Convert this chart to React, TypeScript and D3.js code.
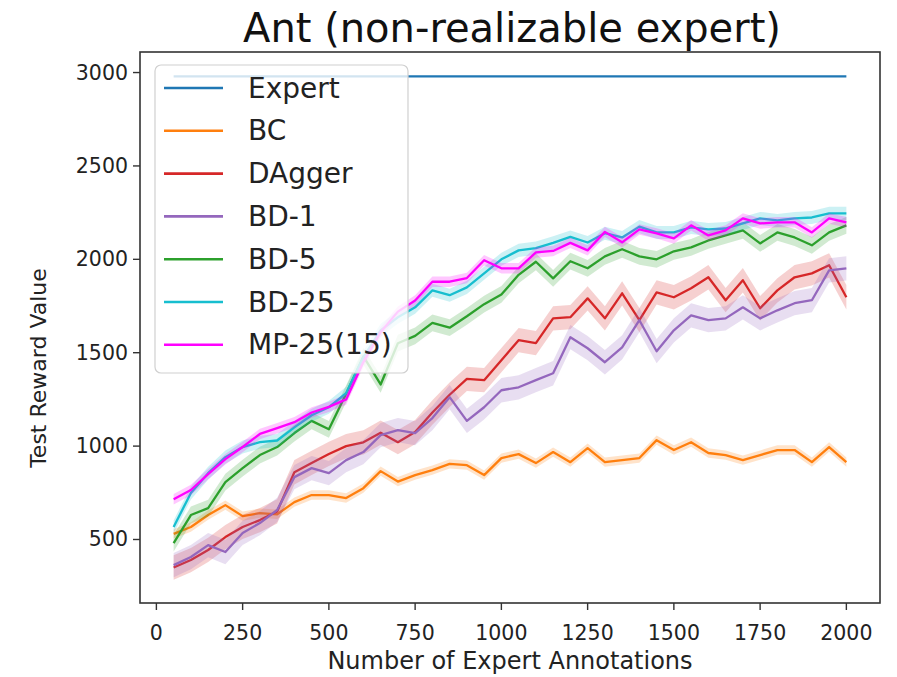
import React from "react";
import * as d3 from "d3";

const xs = [50,100,150,200,250,300,350,400,450,500,550,600,650,700,750,800,850,900,950,1000,1050,1100,1150,1200,1250,1300,1350,1400,1450,1500,1550,1600,1650,1700,1750,1800,1850,1900,1950,2000];

const expert = [2980,2980,2980,2980,2980,2980,2980,2980,2980,2980,2980,2980,2980,2980,2980,2980,2980,2980,2980,2980,2980,2980,2980,2980,2980,2980,2980,2980,2980,2980,2980,2980,2980,2980,2980,2980,2980,2980,2980,2980];
const bc = [530,567,631,684,625,641,635,700,738,738,722,775,866,810,845,871,905,898,845,936,957,909,968,914,989,914,925,936,1032,979,1021,963,952,925,952,979,979,914,995,914];
const dagger = [350,390,444,513,567,604,650,860,910,958,1000,1020,1072,1021,1075,1180,1275,1360,1353,1460,1567,1551,1684,1690,1791,1684,1818,1674,1823,1797,1845,1904,1781,1888,1738,1834,1904,1925,1968,1797];
const bd1 = [363,406,470,433,535,588,658,834,882,855,925,968,1059,1085,1069,1150,1262,1135,1208,1299,1315,1353,1390,1583,1524,1449,1529,1674,1508,1620,1700,1674,1684,1743,1684,1727,1765,1781,1941,1952];
const bd5 = [481,631,668,807,882,952,995,1070,1135,1090,1280,1480,1330,1551,1590,1660,1634,1695,1760,1812,1917,1987,1898,1990,1952,2016,2054,2016,2000,2043,2064,2101,2128,2155,2085,2144,2117,2075,2144,2182];
const bd25 = [567,749,855,941,995,1021,1030,1100,1165,1208,1283,1476,1620,1690,1743,1834,1808,1850,1925,2000,2048,2060,2088,2120,2090,2140,2117,2175,2144,2144,2171,2160,2165,2192,2219,2208,2219,2224,2246,2246];
const mp = [715,765,850,930,995,1065,1096,1128,1180,1210,1250,1450,1610,1720,1780,1880,1880,1900,1995,1952,1952,2037,2045,2088,2048,2147,2091,2160,2139,2112,2182,2128,2155,2219,2192,2198,2198,2144,2219,2198];

const seriesNames = ["Expert","BC","DAgger","BD-1","BD-5","BD-25","MP-25(15)"];
const seriesValues = [expert, bc, dagger, bd1, bd5, bd25, mp];
const seriesSpread = [0, 25, 65, 65, 45, 35, 28];
const seriesColors = ["#1f77b4","#ff7f0e","#d62728","#9467bd","#2ca02c","#17becf","#ff00ff"];

const xTicks = [0,250,500,750,1000,1250,1500,1750,2000];
const yTicks = [500,1000,1500,2000,2500,3000];

const W = 897, H = 677;
const left = 140, right = 880, top = 52, bottom = 603;
const font = "DejaVu Sans";

export default function App() {
  const x = d3.scaleLinear().domain([-47.5, 2097.5]).range([left, right]);
  const y = d3.scaleLinear().domain([160, 3110]).range([bottom, top]);
  const line = d3.line<number>().x((_, i) => x(xs[i])).y(d => y(d));
  const legendX = 155, legendY = 65, legendW = 253, legendH = 308;
  return (
    <svg width={W} height={H} style={{ position: "absolute", left: 0, top: 0, background: "#fff" }} fontFamily={font}>
      <rect x={0} y={0} width={W} height={H} fill="#fff" />
      <text x={(left + right) / 2 + 2} y={42} textAnchor="middle" fontSize={40} fill="#111">Ant (non-realizable expert)</text>
      <defs>
        <clipPath id="plotclip"><rect x={left} y={top} width={right - left} height={bottom - top} /></clipPath>
      </defs>
      <g clipPath="url(#plotclip)">
        {seriesValues.map((vals, s) => {
          const sp = seriesSpread[s];
          const area = d3.area<number>().x((_, i) => x(xs[i])).y0(d => y(d - sp)).y1(d => y(d + sp));
          return (
            <g key={s}>
              {sp > 0 && <path d={area(vals) || ""} fill={seriesColors[s]} fillOpacity={0.22} stroke="none" />}
              <path d={line(vals) || ""} fill="none" stroke={seriesColors[s]} strokeWidth={2.3} strokeLinejoin="round" />
            </g>
          );
        })}
      </g>
      <rect x={left} y={top} width={right - left} height={bottom - top} fill="none" stroke="#333" strokeWidth={1.6} />
      {xTicks.map(t => (
        <g key={"x" + t}>
          <line x1={x(t)} x2={x(t)} y1={bottom} y2={bottom + 7} stroke="#333" strokeWidth={1.4} />
          <text x={x(t)} y={640} textAnchor="middle" fontSize={20.5} fill="#222">{t}</text>
        </g>
      ))}
      {yTicks.map(t => (
        <g key={"y" + t}>
          <line x1={left - 7} x2={left} y1={y(t)} y2={y(t)} stroke="#333" strokeWidth={1.4} />
          <text x={left - 12} y={y(t)} textAnchor="end" dominantBaseline="central" fontSize={20.5} fill="#222">{t}</text>
        </g>
      ))}
      <text x={(left + right) / 2} y={669} textAnchor="middle" fontSize={24} fill="#222">Number of Expert Annotations</text>
      <text transform={`translate(46,368) rotate(-90)`} textAnchor="middle" fontSize={22} fill="#222">Test Reward Value</text>
      <rect x={legendX} y={legendY} width={legendW} height={legendH} rx={6} fill="#fff" fillOpacity={0.8} stroke="#d0d0d0" strokeWidth={1.2} />
      {seriesNames.map((n, i) => {
        const cy = 88 + i * 42.8;
        return (
          <g key={n}>
            <line x1={164} x2={223} y1={cy} y2={cy} stroke={seriesColors[i]} strokeWidth={2.6} />
            <text x={248} y={cy} dominantBaseline="central" fontSize={28} fill="#222">{n}</text>
          </g>
        );
      })}
    </svg>
  );
}
